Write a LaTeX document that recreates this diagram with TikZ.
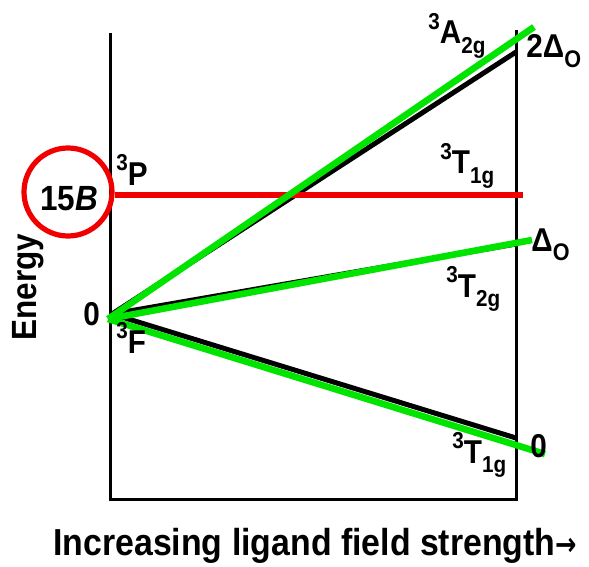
\documentclass[tikz,border=0pt]{standalone}
\usepackage{fontspec}
\setmainfont{Liberation Sans}[FakeStretch=0.9]
\newfontfamily\arrowfont{DejaVu Sans}[FakeStretch=0.8]
\definecolor{LevelGreen}{HTML}{00E400}
\definecolor{MarkRed}{HTML}{F00000}
\newcommand{\trm}[3]{%
  \raisebox{.45em}{\fontsize{11.5}{11.5}\selectfont #1}#2%
  \raisebox{-.28em}{\fontsize{11.5}{11.5}\selectfont #3}}
\newcommand{\dlt}{Δ\raisebox{-.3em}{\fontsize{12}{12}\selectfont O}}
\tikzset{
  frame/.style    = {line width=1.5pt},
  level/.style    = {line width=2.5pt, black},
  greenline/.style= {line width=3.3pt, LevelGreen},
  redline/.style  = {line width=2.8pt, MarkRed},
  ring/.style     = {draw=MarkRed, circle, line width=2.6pt,
                     minimum size=44pt, inner sep=0pt},
  lbl/.style      = {font=\fontsize{16.5}{18}\selectfont\bfseries,
                     inner sep=0pt, anchor=base west},
  big/.style      = {font=\fontsize{17.5}{20}\selectfont\bfseries, inner sep=0pt},
}

\begin{document}
\begin{tikzpicture}[x=0.5pt,y=-0.5pt]
  \useasboundingbox (0,0) rectangle (589,567);
  \coordinate (Ftop) at (110,33);
  \coordinate (Fbl) at (110,499);
  \coordinate (Fbr) at (516,499);
  \coordinate (Ftr) at (516,30);
  \draw[frame] (Ftop) -- (Fbl) -- (Fbr) -- (Ftr);
  \coordinate (O) at (112,314);
  \coordinate (A2g) at (516,52);
  \coordinate (T2g) at (516,244);
  \coordinate (T1g) at (516,438);
  \draw[level] (O) -- (A2g);
  \draw[level] (O) -- (T2g);
  \draw[level] (O) -- (T1g);
  \node[ring] (ring) at (68,192) {};
  \coordinate (redend) at (523,195);
  \draw[redline] (ring.east) ++(0,3) -- (redend);
  \coordinate (G) at (108,319);
  \coordinate (gA2g) at (534,27);
  \coordinate (gT2g) at (532,240);
  \coordinate (gT1g) at (545,454);
  \draw[greenline] (G) -- (gA2g);
  \draw[greenline] (G) -- (gT2g);
  \draw[greenline] (G) -- (gT1g);
  \node[big, anchor=base west] (fifteenB) at (40,210) {15\textit{B}};
  \node[lbl] (P) at (116,185) {\trm{3}{P}{}};
  \node[lbl] (zero) at (83,325) {0};
  \node[lbl] (F) at (116,353) {\trm{3}{F}{}};
  \node[lbl] (A) at (428,44) {\trm{3}{A}{2g}};
  \node[lbl] (twoD) at (526,58) {2\dlt};
  \node[lbl] (Tup) at (440,174) {\trm{3}{T}{1g}};
  \node[lbl] (oneD) at (531,251) {\dlt};
  \node[lbl] (Tmid) at (446,297) {\trm{3}{T}{2g}};
  \node[lbl] (zerolow) at (530,457) {0};
  \node[lbl] (Tlow) at (452,463) {\trm{3}{T}{1g}};
  \node[big, rotate=90] (energy) at (28,287) {Energy};
  \node[lbl, font=\fontsize{18.8}{22}\selectfont\bfseries] (xlabel) at (53,555)
    {Increasing ligand field strength{\arrowfont\fontsize{16}{16}\selectfont →}};
\end{tikzpicture}
\end{document}
